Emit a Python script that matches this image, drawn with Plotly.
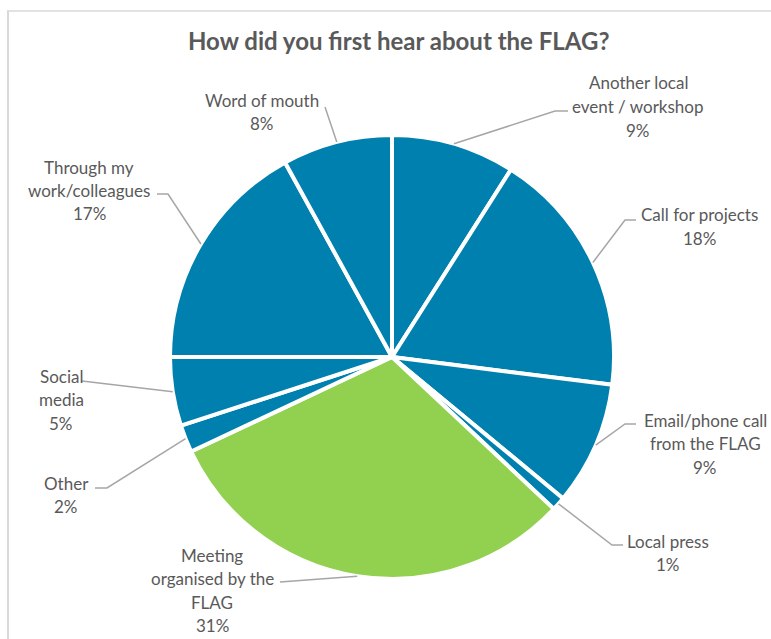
import math
import plotly.graph_objects as go

# Survey answers, in clockwise order from 12 o'clock
categories = [
    "Another local event / workshop",
    "Call for projects",
    "Email/phone call from the FLAG",
    "Local press",
    "Meeting organised by the FLAG",
    "Other",
    "Social media",
    "Through my work/colleagues",
    "Word of mouth",
]
shares = [9, 18, 9, 1, 31, 2, 5, 17, 8]

# How each category name is wrapped in its label
label_lines = [
    ["Another local", "event / workshop"],
    ["Call for projects"],
    ["Email/phone call", "from the FLAG"],
    ["Local press"],
    ["Meeting", "organised by the", "FLAG"],
    ["Other"],
    ["Social", "media"],
    ["Through my", "work/colleagues"],
    ["Word of mouth"],
]

W, H = 771, 639
CX, CY, R = 392, 357, 222          # pie centre and radius, px

BLUE = "#0080AE"
GREEN = "#92D050"
TEXT = "#595959"
LEADER = "#A6A6A6"
BORDER = "#D9D9D9"
FONT = "Lato"

# Label layout: (elbow x, elbow y, leader end x, text centre x, first line y), px
label_layout = [
    (555, 111, 568, 638, 83),
    (625, 220, 636, 699, 215),
    (625, 424, 636, 705, 420),
    (612, 545, 623, 668, 541),
    (280, 582, 280, 212, 555),
    (107, 488, 95, 66, 483),
    (82, 381, 82, 61, 376),
    (168, 194, 157, 89, 167),
    (325, 107, 325, 262, 100),
]
LINE_STEP = 23.5


def px(x):
    return x / W


def py(y):
    return 1 - y / H


colors = [GREEN if c.startswith("Meeting") else BLUE for c in categories]

fig = go.Figure(
    go.Pie(
        labels=categories,
        values=shares,
        sort=False,
        direction="clockwise",
        rotation=0,
        textinfo="none",
        hoverinfo="label+percent",
        marker=dict(colors=colors, line=dict(color="white", width=4)),
        domain=dict(x=[px(CX - R), px(CX + R)], y=[py(CY + R), py(CY - R)]),
        showlegend=False,
    )
)

shapes = []
annotations = []
total = sum(shares)
cum = 0
for cat, val, lines, (ex, ey, endx, tcx, ty) in zip(
    categories, shares, label_lines, label_layout
):
    mid = (cum + val / 2) / total * 2 * math.pi
    cum += val
    sx = CX + R * math.sin(mid)
    sy = CY - R * math.cos(mid)
    path = f"M {px(sx)},{py(sy)} L {px(ex)},{py(ey)} L {px(endx)},{py(ey)}"
    shapes.append(dict(type="path", xref="paper", yref="paper", path=path,
                       line=dict(color=LEADER, width=1.5)))
    for i, txt in enumerate(lines + [f"{val}%"]):
        annotations.append(dict(
            x=px(tcx), y=py(ty + i * LINE_STEP), xref="paper", yref="paper",
            text=txt, showarrow=False, xanchor="center", yanchor="middle",
            font=dict(family=FONT, size=17, color=TEXT),
        ))

# Title
annotations.append(dict(
    x=px(398), y=py(40), xref="paper", yref="paper",
    text="<b>How did you first hear about the FLAG?</b>", showarrow=False,
    xanchor="center", yanchor="middle",
    font=dict(family=FONT, size=24, color=TEXT),
))

# Chart-area frame (top and left edges)
shapes.append(dict(type="line", xref="paper", yref="paper",
                   x0=px(7), y0=py(11), x1=1, y1=py(11),
                   line=dict(color=BORDER, width=1.5)))
shapes.append(dict(type="line", xref="paper", yref="paper",
                   x0=px(8), y0=py(11), x1=px(8), y1=0,
                   line=dict(color=BORDER, width=2)))

fig.update_layout(
    width=W, height=H,
    margin=dict(l=0, r=0, t=0, b=0),
    paper_bgcolor="white",
    plot_bgcolor="white",
    shapes=shapes,
    annotations=annotations,
)

fig.write_html("out.html")
